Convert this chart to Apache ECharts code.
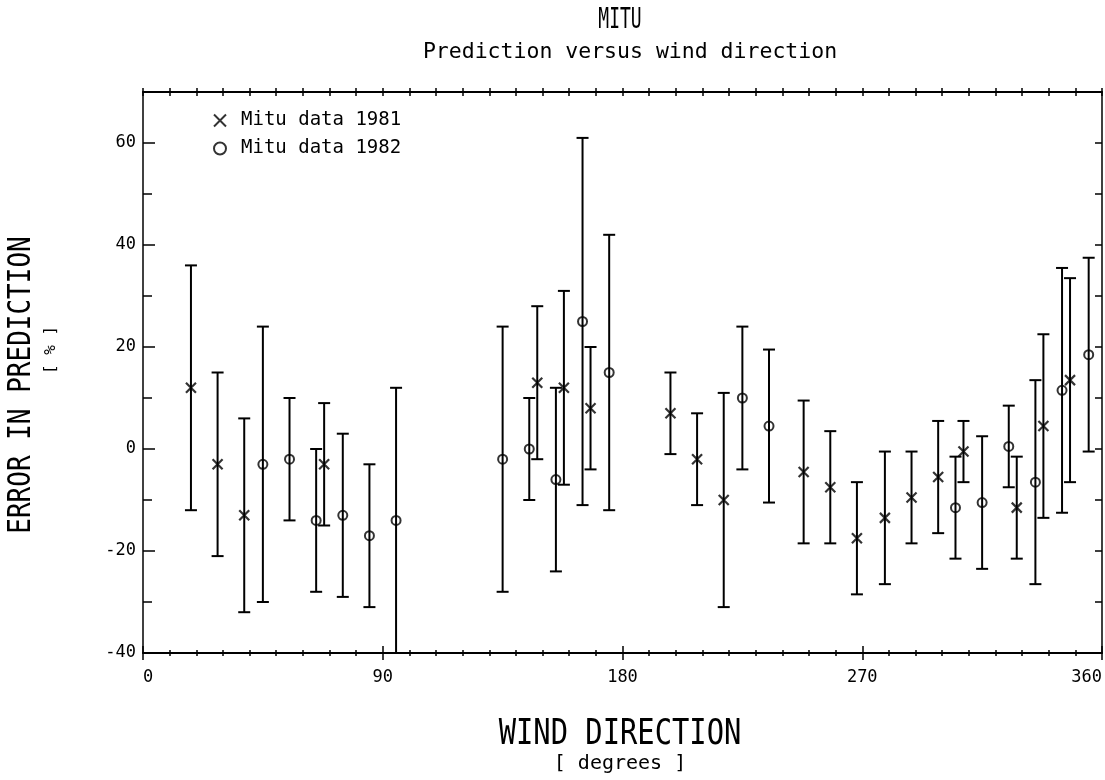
<!DOCTYPE html>
<html>
<head>
<meta charset="utf-8">
<script src="https://cdn.jsdelivr.net/npm/echarts@6/dist/echarts.min.js"></script>
<style>html,body{margin:0;padding:0;background:#fff}#c{width:1105px;height:780px}</style>
</head>
<body>
<div id="c"></div>
<script>
// Wind direction (degrees), error in prediction (%) with lower / upper bounds
const dir1981 = [18, 28, 38, 68, 148, 158, 168, 198, 208, 218, 248, 258, 268, 278.5, 288.5, 298.5, 308, 328, 338, 348];
const mid1981 = [12, -3, -13, -3, 13, 12, 8, 7, -2, -10, -4.5, -7.5, -17.5, -13.5, -9.5, -5.5, -0.5, -11.5, 4.5, 13.5];
const lo1981  = [-12, -21, -32, -15, -2, -7, -4, -1, -11, -31, -18.5, -18.5, -28.5, -26.5, -18.5, -16.5, -6.5, -21.5, -13.5, -6.5];
const hi1981  = [36, 15, 6, 9, 28, 31, 20, 15, 7, 11, 9.5, 3.5, -6.5, -0.5, -0.5, 5.5, 5.5, -1.5, 22.5, 33.5];

const dir1982 = [45, 55, 65, 75, 85, 95, 135, 145, 155, 165, 175, 225, 235, 305, 315, 325, 335, 345, 355];
const mid1982 = [-3, -2, -14, -13, -17, -14, -2, 0, -6, 25, 15, 10, 4.5, -11.5, -10.5, 0.5, -6.5, 11.5, 18.5];
const lo1982  = [-30, -14, -28, -29, -31, -42, -28, -10, -24, -11, -12, -4, -10.5, -21.5, -23.5, -7.5, -26.5, -12.5, -0.5];
const hi1982  = [24, 10, 0, 3, -3, 12, 24, 10, 12, 61, 42, 24, 19.5, -1.5, 2.5, 8.5, 13.5, 35.5, 37.5];

const seriesNames = ['Mitu data 1981', 'Mitu data 1982'];
const xTickLabels = ['0', '90', '180', '270', '360'];

const FONT = '"DejaVu Sans Mono", "Liberation Mono", monospace';

function errData(d, lo, hi) { return d.map((x, i) => [x, lo[i], hi[i]]); }
function ptData(d, m) { return d.map((x, i) => [x, m[i]]); }

function renderErr(params, api) {
  const x = api.value(0), lo = api.value(1), hi = api.value(2);
  const t = api.coord([x, hi]), b = api.coord([x, lo]);
  const s = { stroke: '#000', lineWidth: 2 };
  const w = 6;
  return {
    type: 'group',
    children: [
      { type: 'line', shape: { x1: t[0], y1: t[1], x2: b[0], y2: b[1] }, style: s },
      { type: 'line', shape: { x1: t[0] - w, y1: t[1], x2: t[0] + w, y2: t[1] }, style: s },
      { type: 'line', shape: { x1: b[0] - w, y1: b[1], x2: b[0] + w, y2: b[1] }, style: s }
    ]
  };
}

const chart = echarts.init(document.getElementById('c'), null, { renderer: 'canvas' });
const lineStyle = { color: '#000', width: 2 };
const tickStyle = { color: '#000', width: 1.5 };

const option = {
  backgroundColor: '#fff',
  animation: false,
  grid: { left: 143, right: 2, top: 92, bottom: 127, containLabel: false },
  legend: {
    orient: 'vertical', left: 208, top: 106, itemGap: 9,
    itemWidth: 12, itemHeight: 12,
    data: seriesNames,
    textStyle: { fontFamily: FONT, fontSize: 19, color: '#000', padding: [0, 0, 0, 10] }
  },
  xAxis: [
    { type: 'value', min: 0, max: 360, interval: 90, position: 'bottom',
      axisLine: { show: true, onZero: false, lineStyle: lineStyle },
      axisTick: { show: true, inside: true, length: 7, lineStyle: tickStyle },
      minorTick: { show: true, splitNumber: 9, length: 3, lineStyle: tickStyle },
      splitLine: { show: false },
      axisLabel: { show: true, margin: 16, fontFamily: FONT, fontSize: 17, color: '#000',
        alignMinLabel: 'left', alignMaxLabel: 'right',
        formatter: v => xTickLabels[Math.round(v / 90)] } },
    { type: 'value', min: 0, max: 360, interval: 90, position: 'bottom',
      axisLine: { show: false, onZero: false },
      axisTick: { show: true, inside: false, length: 7, lineStyle: tickStyle },
      minorTick: { show: true, splitNumber: 9, length: 3, lineStyle: tickStyle },
      splitLine: { show: false }, axisLabel: { show: false } },
    { type: 'value', min: 0, max: 360, interval: 10, position: 'top',
      axisLine: { show: true, onZero: false, lineStyle: lineStyle },
      axisTick: { show: true, inside: true, length: 4, lineStyle: tickStyle },
      splitLine: { show: false }, axisLabel: { show: false } },
    { type: 'value', min: 0, max: 360, interval: 10, position: 'top',
      axisLine: { show: false, onZero: false },
      axisTick: { show: true, inside: false, length: 4, lineStyle: tickStyle },
      splitLine: { show: false }, axisLabel: { show: false } }
  ],
  yAxis: [
    { type: 'value', min: -40, max: 70, interval: 20, position: 'left',
      axisLine: { show: true, onZero: false, lineStyle: { color: '#000', width: 1.5 } },
      axisTick: { show: true, inside: true, length: 12, lineStyle: tickStyle },
      minorTick: { show: true, splitNumber: 2, length: 9, lineStyle: tickStyle },
      splitLine: { show: false },
      axisLabel: { show: true, margin: 7, fontFamily: FONT, fontSize: 17, color: '#000',
        showMaxLabel: false } },
    { type: 'value', min: -40, max: 70, interval: 10, position: 'right',
      axisLine: { show: true, onZero: false, lineStyle: { color: '#000', width: 1.5 } },
      axisTick: { show: true, inside: true, length: 7, lineStyle: tickStyle },
      splitLine: { show: false }, axisLabel: { show: false } }
  ],
  series: [
    { type: 'custom', name: 'err1981', clip: true, renderItem: renderErr,
      data: errData(dir1981, lo1981, hi1981), z: 2 },
    { type: 'custom', name: 'err1982', clip: true, renderItem: renderErr,
      data: errData(dir1982, lo1982, hi1982), z: 2 },
    { type: 'scatter', name: seriesNames[0], data: ptData(dir1981, mid1981),
      symbol: 'path://M0,0L10,10M10,0L0,10', symbolSize: 10, z: 3,
      itemStyle: { color: 'rgba(0,0,0,0)', borderColor: '#000', borderWidth: 2.2 } },
    { type: 'scatter', name: seriesNames[1], data: ptData(dir1982, mid1982),
      symbol: 'circle', symbolSize: 9, z: 3,
      itemStyle: { color: 'rgba(0,0,0,0)', borderColor: '#000', borderWidth: 2 } }
  ],
  graphic: [
    { type: 'text', x: 620, y: 21, scaleX: 0.75, scaleY: 1.2,
      style: { text: 'MITU', font: '24px ' + FONT, fill: '#000', align: 'center', verticalAlign: 'middle' } },
    { type: 'text', x: 630, y: 52,
      style: { text: 'Prediction versus wind direction', font: '21.5px ' + FONT, fill: '#000', align: 'center', verticalAlign: 'middle' } },
    { type: 'text', x: 620, y: 735, scaleX: 0.96, scaleY: 1.18,
      style: { text: 'WIND DIRECTION', font: '30px ' + FONT, fill: '#000', align: 'center', verticalAlign: 'middle' } },
    { type: 'text', x: 620, y: 764,
      style: { text: '[ degrees ]', font: '20px ' + FONT, fill: '#000', align: 'center', verticalAlign: 'middle' } },
    { type: 'text', x: 22, y: 385, rotation: Math.PI / 2, scaleY: 1.2,
      style: { text: 'ERROR IN PREDICTION', font: '26px ' + FONT, fill: '#000', align: 'center', verticalAlign: 'middle' } },
    { type: 'text', x: 51, y: 350, rotation: Math.PI / 2,
      style: { text: '[ % ]', font: '16px ' + FONT, fill: '#000', align: 'center', verticalAlign: 'middle' } }
  ]
};
chart.setOption(option);
</script>
</body>
</html>
